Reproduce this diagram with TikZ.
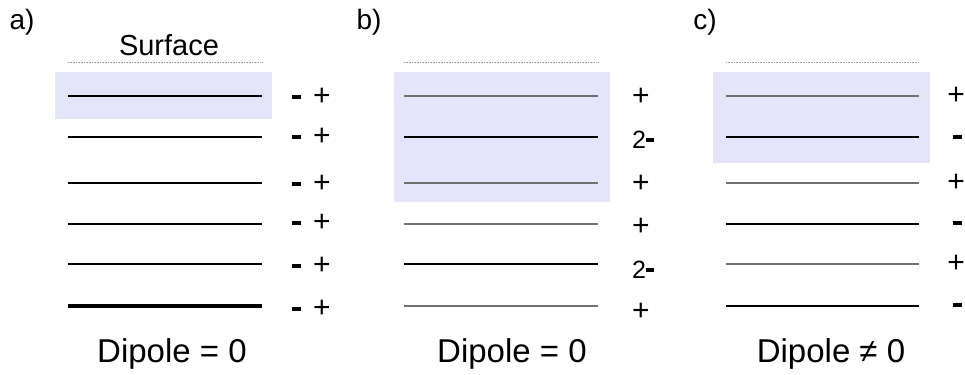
\documentclass[tikz,border=0pt]{standalone}
\usepackage{fontspec}
\setmainfont{Liberation Sans}
\definecolor{lavfill}{HTML}{E4E4FA}
\definecolor{lgray}{HTML}{707070}
\definecolor{dgray}{HTML}{A0A0A0}
\tikzset{
  layer/.style={line width=2bp, black},
  glayer/.style={line width=2bp, lgray},
  thicklayer/.style={line width=4bp, black},
  surf/.style={line width=0.8bp, dgray, dash pattern=on 0.8bp off 0.8bp},
  sign/.style={font=\fontsize{30bp}{32bp}\selectfont, inner sep=0pt, anchor=center},
  panel/.style={font=\fontsize{28bp}{30bp}\selectfont, inner sep=0pt},
  caption/.style={font=\fontsize{33bp}{36bp}\selectfont, inner sep=0pt},
}
\newcommand{\mns}{\rule{9bp}{3.5bp}}
\newcommand{\twomns}{{\fontsize{25bp}{26bp}\selectfont 2}\rule[7bp]{8bp}{3.5bp}}
\begin{document}
\begin{tikzpicture}[x=1bp,y=-1bp]
\useasboundingbox (0,0) rectangle (965,374);
% shaded regions
\fill[lavfill] (55,72) rectangle (272,119);
\fill[lavfill] (394,72) rectangle (610,202);
\fill[lavfill] (713,72) rectangle (930,163);
% panel labels
\node[panel] (la) at (22,22) {a)};
\node[panel] (lb) at (369,22) {b)};
\node[panel] (lc) at (705,22) {c)};
\node[font=\fontsize{29bp}{30bp}\selectfont, inner sep=0pt] (surf) at (169,45) {Surface};
% surface dotted lines
\draw[surf] (68,62) -- (262,62);
\draw[surf] (404,62) -- (598,62);
\draw[surf] (726,62) -- (919,62);
% panel a layers
\foreach \y in {96,137,183,224,264} \draw[layer] (68,\y) -- (262,\y);
\draw[thicklayer] (68,306) -- (262,306);
\foreach \y/\n in {97/1,137/2,184/3,223/4,266/5,309/6} {
  \node[sign] (am\n) at (296,\y) {\mns};
  \node[sign] (ap\n) at (322,\y) {+};
}
% panel b layers
\foreach \y in {96,183,224,306} \draw[glayer] (404,\y) -- (598,\y);
\foreach \y in {137,264} \draw[layer] (404,\y) -- (598,\y);
\node[sign] (bp1) at (641,97) {+};
\node[sign] (bm2) at (643,140) {\twomns};
\node[sign] (bp3) at (641,184) {+};
\node[sign] (bp4) at (641,227) {+};
\node[sign] (bm5) at (643,270) {\twomns};
\node[sign] (bp6) at (641,312) {+};
% panel c layers
\foreach \y in {96,183,264} \draw[glayer] (726,\y) -- (919,\y);
\foreach \y in {137,224,306} \draw[layer] (726,\y) -- (919,\y);
\node[sign] (cp1) at (956,96) {+};
\node[sign] (cm2) at (957,137) {\mns};
\node[sign] (cp3) at (956,183) {+};
\node[sign] (cm4) at (957,223) {\mns};
\node[sign] (cp5) at (956,264) {+};
\node[sign] (cm6) at (957,305) {\mns};
% captions
\node[caption] (da) at (172,354) {Dipole = 0};
\node[caption] (db) at (512,354) {Dipole = 0};
\node[caption] (dc) at (831,354) {Dipole ≠ 0};
\end{tikzpicture}
\end{document}
